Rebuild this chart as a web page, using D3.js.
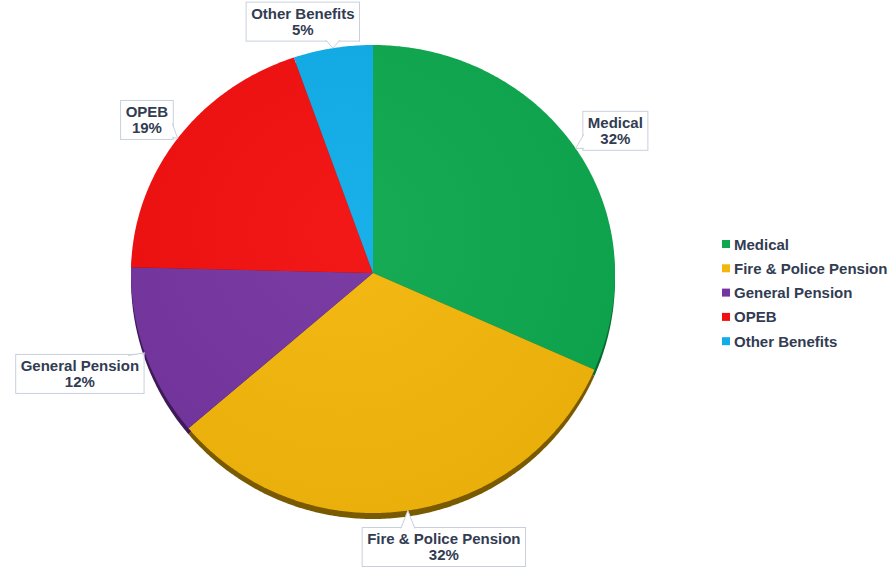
<!DOCTYPE html>
<html>
<head>
<meta charset="utf-8">
<script src="https://cdn.jsdelivr.net/npm/d3@7"></script>
<style>
  body { margin: 0; background: #fff; }
  text { font-family: "Liberation Sans", Arial, sans-serif; font-weight: bold; }
</style>
</head>
<body>
<svg id="chart" width="894" height="567"></svg>
<script>
var width = 894, height = 567;

// data
var categories = ['Medical', 'Fire & Police Pension', 'General Pension', 'OPEB', 'Other Benefits'];
var values = [31.6, 32.2, 11.6, 19.3, 5.3];
var colors = ['#0ea84f', '#f3b60a', '#7535a0', '#f20f0f', '#10ade9'];
var sideColors = ['#076b30', '#7a5a00', '#3f1a58', '#8a0606', '#086a8f'];

// label placement around the pie: [angle in degrees, distance from apex]
var labelPlace = [[59.6, 281], [165.5, 283], [251, 310], [304.1, 273], [344.4, 261]];

// tilted pie: apex, horizontal radius, upper and lower vertical radius
var cx = 373, cy = 273, rx = 242, ryTop = 228, ryBot = 240, depth = 6;
var textColor = '#323c52';

var svg = d3.select('#chart');

var pie = d3.pie().sort(null).value(function (d) { return d; });
var arcs = pie(values);

function rim(a) {
    var c = Math.cos(a);
    return [cx + rx * Math.sin(a), cy - (c > 0 ? ryTop : ryBot) * c];
}

var line = d3.line();
function slicePath(d) {
    var n = Math.max(8, Math.ceil((d.endAngle - d.startAngle) / 0.01));
    var pts = [[cx, cy]];
    d3.range(n + 1).forEach(function (k) {
        pts.push(rim(d.startAngle + (d.endAngle - d.startAngle) * k / n));
    });
    return line(pts) + 'Z';
}

var defs = svg.append('defs');
var grad = defs.append('radialGradient').attr('id', 'shine')
    .attr('gradientUnits', 'userSpaceOnUse')
    .attr('cx', cx - 30).attr('cy', cy - 40).attr('r', 300);
grad.append('stop').attr('offset', '0%').attr('stop-color', '#fff').attr('stop-opacity', 0.04);
grad.append('stop').attr('offset', '100%').attr('stop-color', '#000').attr('stop-opacity', 0.04);

// thickness
svg.append('g')
    .attr('transform', 'translate(0,' + depth + ')')
    .selectAll('path')
    .data(arcs)
    .join('path')
    .attr('d', slicePath)
    .attr('fill', function (d, i) { return sideColors[i]; });

// top face
var face = svg.append('g');
face.selectAll('path')
    .data(arcs)
    .join('path')
    .attr('d', slicePath)
    .attr('fill', function (d, i) { return colors[i]; });
face.append('path')
    .attr('d', slicePath({ startAngle: 0, endAngle: 2 * Math.PI }))
    .attr('fill', 'url(#shine)');

// callout labels
var labels = svg.append('g');
arcs.forEach(function (d, i) {
    var mid = (d.startAngle + d.endAngle) / 2;
    var tip = rim(mid);
    var la = labelPlace[i][0] * Math.PI / 180, lr = labelPlace[i][1];
    var lc = [cx + lr * Math.sin(la), cy - lr * Math.cos(la)];

    var g = labels.append('g');
    var t = g.append('text')
        .attr('text-anchor', 'middle')
        .attr('font-size', 15)
        .attr('fill', textColor);
    t.append('tspan').attr('x', lc[0]).text(categories[i]);
    t.append('tspan').attr('x', lc[0]).text(Math.round(values[i]) + '%');
    var w = t.node().getBBox().width + 10, h = 39;
    var x0 = lc[0] - w / 2, y0 = Math.max(2, lc[1] - h / 2);
    t.selectAll('tspan').attr('y', function (dd, k) { return y0 + 17 + k * 16; });

    g.insert('rect', 'text')
        .attr('x', x0).attr('y', y0).attr('width', w).attr('height', h)
        .attr('fill', '#fff').attr('stroke', '#c9d0dc').attr('stroke-width', 1);

    // pointer
    var b1, b2, bw = 7;
    function clampX(v) { return Math.max(x0 + bw + 2, Math.min(x0 + w - bw - 2, v)); }
    function clampY(v) { return Math.max(y0 + bw + 2, Math.min(y0 + h - bw - 2, v)); }
    if (tip[1] > y0 + h) {
        b1 = [clampX(tip[0]) - bw, y0 + h - 1]; b2 = [clampX(tip[0]) + bw, y0 + h - 1];
    } else if (tip[1] < y0) {
        b1 = [clampX(tip[0]) - bw, y0 + 1]; b2 = [clampX(tip[0]) + bw, y0 + 1];
    } else if (tip[0] < x0) {
        b1 = [x0 + 1, clampY(tip[1]) - bw]; b2 = [x0 + 1, clampY(tip[1]) + bw];
    } else {
        b1 = [x0 + w - 1, clampY(tip[1]) - bw]; b2 = [x0 + w - 1, clampY(tip[1]) + bw];
    }
    g.insert('path', 'text')
        .attr('d', 'M' + b1 + 'L' + tip + 'L' + b2)
        .attr('fill', '#fff').attr('stroke', '#c9d0dc').attr('stroke-width', 1);
});

// legend
var legend = svg.append('g').attr('transform', 'translate(722,244)');
var rows = legend.selectAll('g')
    .data(categories)
    .join('g')
    .attr('transform', function (d, i) { return 'translate(0,' + (i * 24.3) + ')'; });
rows.append('rect')
    .attr('x', 0).attr('y', -4).attr('width', 8).attr('height', 8)
    .attr('fill', function (d, i) { return colors[i]; });
rows.append('text')
    .attr('x', 12).attr('y', 5.5)
    .attr('font-size', 15)
    .attr('fill', textColor)
    .text(function (d) { return d; });
</script>
</body>
</html>
